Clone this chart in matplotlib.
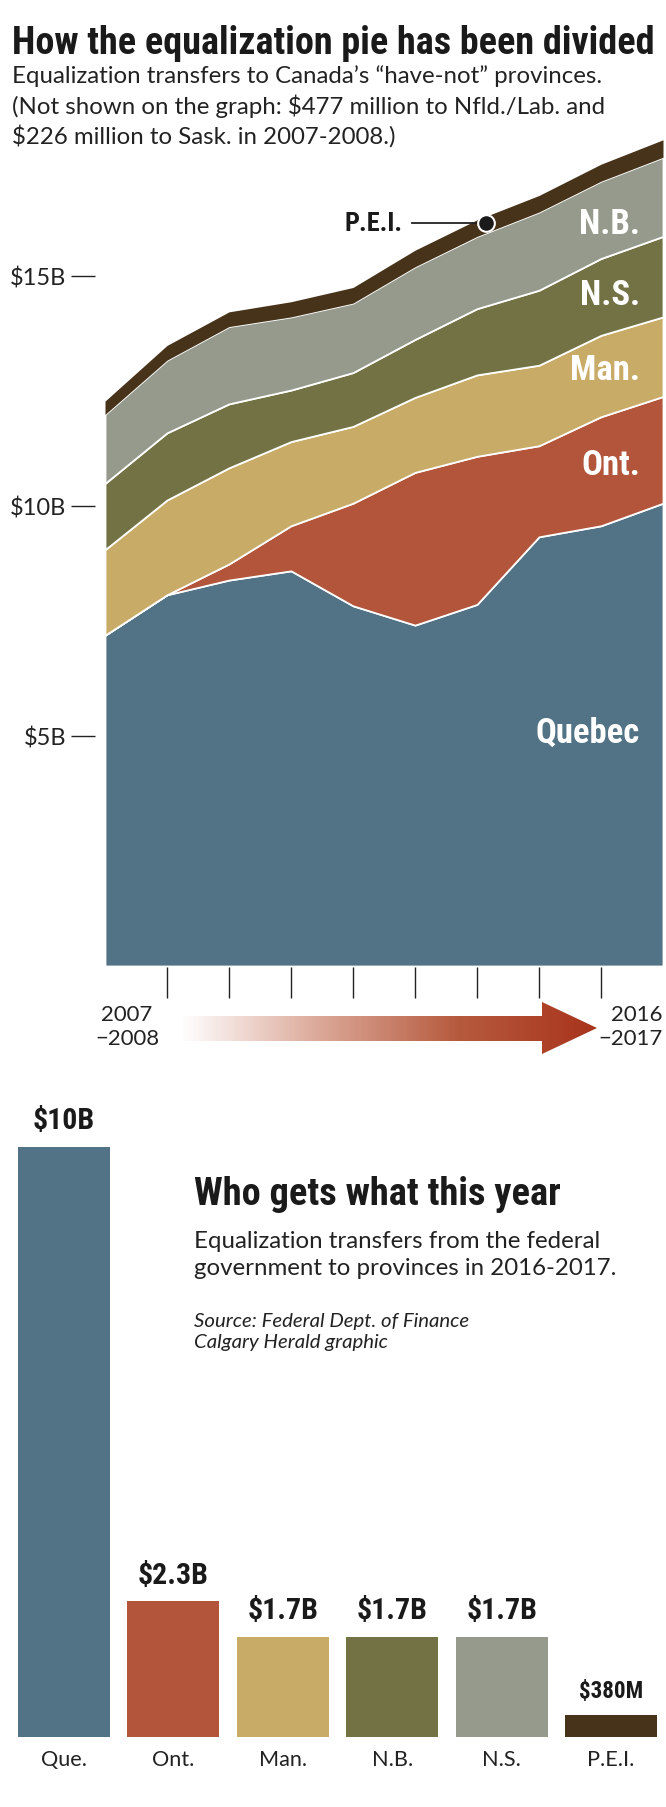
import numpy as np
import matplotlib.pyplot as plt
from matplotlib import font_manager
from matplotlib.patches import Polygon
from matplotlib.colors import LinearSegmentedColormap

# Дані: трансфери вирівнювання, млрд $
years = ["2007\n\u22122008", "", "", "", "", "", "", "", "", "2016\n\u22122017"]
quebec = [7.19, 8.07, 8.39, 8.59, 7.83, 7.41, 7.86, 9.33, 9.57, 10.06]
ontario = [0.0, 0.0, 0.35, 0.98, 2.23, 3.32, 3.22, 1.98, 2.37, 2.32]
manitoba = [1.86, 2.06, 2.09, 1.83, 1.67, 1.63, 1.77, 1.75, 1.77, 1.73]
nova_scotia = [1.44, 1.46, 1.39, 1.12, 1.17, 1.26, 1.44, 1.63, 1.67, 1.75]
new_brunswick = [1.50, 1.58, 1.68, 1.59, 1.51, 1.58, 1.57, 1.70, 1.68, 1.72]
pei = [0.29, 0.32, 0.32, 0.33, 0.34, 0.36, 0.36, 0.36, 0.37, 0.38]

bar_names = ["Que.", "Ont.", "Man.", "N.B.", "N.S.", "P.E.I."]
bar_values = [10.0, 2.3, 1.7, 1.7, 1.7, 0.38]
bar_labels = ["$10B", "$2.3B", "$1.7B", "$1.7B", "$1.7B", "$380M"]

c_que, c_ont, c_man = "#527285", "#b2553a", "#c9ab68"
c_olive, c_gray, c_pei = "#737245", "#959a8c", "#47321a"

installed = {f.name for f in font_manager.fontManager.ttflist}
narrow = next((n for n in ["Liberation Sans Narrow", "Roboto Condensed", "Roboto"] if n in installed),
              "DejaVu Sans")
NARROW = [narrow, "DejaVu Sans"]
LIGHT = ["Lato", "DejaVu Sans"]

W, H = 666, 1808
fig = plt.figure(figsize=(W / 100, H / 100), dpi=100)
renderer = fig.canvas.get_renderer()


def box(l, t, r, b):
    return [l / W, 1 - b / H, (r - l) / W, (b - t) / H]


def fit(s, width, **kw):
    # розмір шрифту, щоб текст мав задану ширину в пікселях
    t = fig.text(0, 0, s, fontsize=10, **kw)
    w = t.get_window_extent(renderer).width
    t.remove()
    return 10 * width / w


BOLD = dict(family=NARROW, fontweight="bold")

# Заголовок
title = "How the equalization pie has been divided"
fig.text(12 / W, 1 - 44 / H, title, fontsize=fit(title, 643, **BOLD), va="center",
         ha="left", color="#1a1a1a", **BOLD)
sub1 = "Equalization transfers to Canada\u2019s \u201chave-not\u201d provinces."
sub = (sub1 + "\n(Not shown on the graph: $477 million to Nfld./Lab. and\n"
       "$226 million to Sask. in 2007-2008.)")
fig.text(12 / W, 1 - 101 / H, sub, family=LIGHT, fontsize=fit(sub1, 591, family=LIGHT),
         va="center_baseline", ha="left", color="#222222", linespacing=1.35)

# Верхній графік з накопиченням
ax = fig.add_axes(box(105, 127, 663, 967))
x = np.arange(len(quebec))
layers = [quebec, ontario, manitoba, nova_scotia, new_brunswick]
ax.stackplot(x, *layers, colors=[c_que, c_ont, c_man, c_olive, c_gray],
             edgecolor="white", linewidth=1.3)
base = np.sum(layers, axis=0)
top = base + np.array(pei)
ax.fill_between(x, base, top, color=c_pei, linewidth=0)
ax.set_xlim(0, 9)
ax.set_ylim(0, 18.26)
for s in ax.spines.values():
    s.set_visible(False)
ax.spines["left"].set_position(("outward", 7))
ax.spines["bottom"].set_position(("outward", 1))
ax.set_yticks([5, 10, 15])
ax.set_yticklabels(["$5B", "$10B", "$15B"], family=LIGHT, fontsize=17, color="#222222")
ax.tick_params(axis="y", length=17, width=1, pad=4, color="#222222")
ax.set_xticks(x[1:-1])
ax.set_xticklabels([])
ax.tick_params(axis="x", length=22, width=1, color="#222222")

lab_size = fit("Quebec", 104, **BOLD)
lab = dict(color="white", ha="right", va="center", fontsize=lab_size, **BOLD)
ax.text(8.63, 16.15, "N.B.", **lab)
ax.text(8.63, 14.6, "N.S.", **lab)
ax.text(8.63, 12.97, "Man.", **lab)
ax.text(8.63, 10.9, "Ont.", **lab)
ax.text(8.63, 5.09, "Quebec", **lab)

px = 6.15
py = np.interp(px, x, top) - 0.15
ax.plot([4.95, px], [py, py], color="#222222", lw=1.3)
ax.plot(px, py, "o", ms=12, color="#1a1a1a", mec="white", mew=1.5, zorder=5)
ax.text(4.8, py, "P.E.I.", fontsize=fit("P.E.I.", 58, **BOLD), ha="right", va="center",
        color="#1a1a1a", **BOLD)

yr_size = fit("\u22122008", 64, family=LIGHT)
fig.text(127 / W, 1 - 1027 / H, years[0], family=LIGHT, fontsize=yr_size, ha="center",
         va="center", color="#222222", linespacing=1.3)
fig.text(663 / W, 1 - 1027 / H, years[-1], family=LIGHT, fontsize=yr_size, ha="right",
         va="center", color="#222222", linespacing=1.3)

# Стрілка з градієнтом
aa = fig.add_axes(box(175, 1000, 605, 1060))
aa.set_xlim(175, 605)
aa.set_ylim(1060, 1000)
aa.axis("off")
cmap = LinearSegmentedColormap.from_list("arr", ["#ffffff", "#dba898", "#b65a3e", "#a8341c"])
grad = np.linspace(0, 1, 300).reshape(1, -1)
im = aa.imshow(grad, cmap=cmap, extent=[180, 598, 1060, 1000], aspect="auto")
arrow = Polygon([[180, 1017], [542, 1017], [542, 1003], [597, 1029], [542, 1055],
                 [542, 1042], [180, 1042]], closed=True, transform=aa.transData,
                facecolor="none", edgecolor="none")
aa.add_patch(arrow)
im.set_clip_path(arrow)

# Нижній стовпчиковий графік
bx = fig.add_axes(box(18, 1120, 657, 1738))
bx.bar(range(len(bar_values)), bar_values, width=0.84,
       color=[c_que, c_ont, c_man, c_olive, c_gray, c_pei])
bx.set_xlim(-0.42, 5.42)
bx.set_ylim(0, 10.47)
for s in bx.spines.values():
    s.set_visible(False)
bx.set_yticks([])
bx.set_xticks(range(len(bar_names)))
bx.set_xticklabels(bar_names, family=LIGHT, fontsize=fit("Ont.", 42, family=LIGHT),
                   color="#222222")
bx.tick_params(axis="x", length=0, pad=9)
val_size = fit("$2.3B", 71, **BOLD)
pei_size = fit("$380M", 64, **BOLD)
for i, (v, t) in enumerate(zip(bar_values, bar_labels)):
    bx.annotate(t, (i, v), xytext=(0, 9), textcoords="offset points", ha="center",
                va="bottom", fontsize=pei_size if i == 5 else val_size,
                color="#1a1a1a", **BOLD)

who = "Who gets what this year"
fig.text(194 / W, 1 - 1195 / H, who, fontsize=fit(who, 366, **BOLD), ha="left",
         va="center", color="#1a1a1a", **BOLD)
eq1 = "Equalization transfers from the federal"
fig.text(194 / W, 1 - 1250 / H, eq1 + "\ngovernment to provinces in 2016-2017.", family=LIGHT,
         fontsize=fit(eq1, 406, family=LIGHT), ha="left", va="center_baseline",
         color="#222222", linespacing=1.35)
src1 = "Source: Federal Dept. of Finance"
fig.text(194 / W, 1 - 1328 / H, src1 + "\nCalgary Herald graphic", family=LIGHT, style="italic",
         fontsize=fit(src1, 276, family=LIGHT, style="italic"), ha="left",
         va="center_baseline", color="#222222", linespacing=1.35)

fig.savefig("out.png", dpi=100)
